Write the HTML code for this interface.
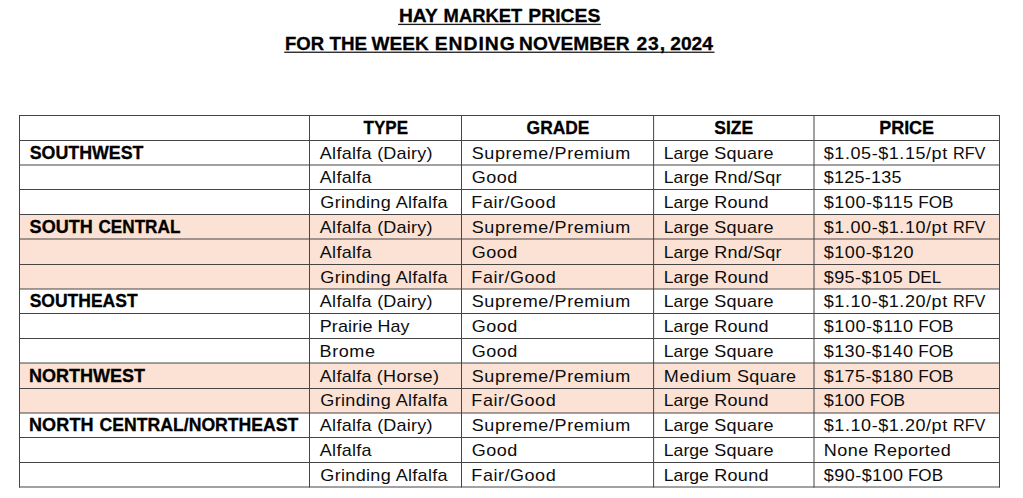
<!DOCTYPE html>
<html><head><meta charset="utf-8"><title>Hay Market Prices</title>
<style>
html,body{margin:0;padding:0;background:#fff;}
body{width:1023px;height:498px;position:relative;overflow:hidden;font-family:"Liberation Sans",sans-serif;color:#000;}
svg{position:absolute;left:0;top:0;}
.x{position:absolute;left:0;white-space:nowrap;line-height:1;margin:0;}
.x span{position:absolute;left:0;top:0;transform-origin:0 0;}
.b{font-weight:bold;font-size:17.5px;line-height:18px;-webkit-text-stroke:0.3px #000;}
.t{font-weight:bold;font-size:18.8px;-webkit-text-stroke:0.3px #000;}
.r{font-weight:normal;font-size:17.0px;line-height:17px;color:#0d0d0d;}
</style></head><body>

<svg width="1023" height="498" viewBox="0 0 1023 498">
<rect x="19.5" y="214.50" width="980.00" height="24.50" fill="#FBE2D5"/>
<rect x="19.5" y="239.00" width="980.00" height="25.50" fill="#FBE2D5"/>
<rect x="19.5" y="264.50" width="980.00" height="24.50" fill="#FBE2D5"/>
<rect x="19.5" y="363.00" width="980.00" height="25.50" fill="#FBE2D5"/>
<rect x="19.5" y="388.50" width="980.00" height="24.50" fill="#FBE2D5"/>
<line x1="19.0" x2="1000.0" y1="115.50" y2="115.50" stroke="#454545" stroke-width="1"/>
<line x1="19.0" x2="1000.0" y1="140.50" y2="140.50" stroke="#454545" stroke-width="1"/>
<line x1="19.0" x2="1000.0" y1="165.00" y2="165.00" stroke="#454545" stroke-width="1"/>
<line x1="19.0" x2="1000.0" y1="189.50" y2="189.50" stroke="#454545" stroke-width="1"/>
<line x1="19.0" x2="1000.0" y1="214.50" y2="214.50" stroke="#454545" stroke-width="1"/>
<line x1="19.0" x2="1000.0" y1="239.00" y2="239.00" stroke="#454545" stroke-width="1"/>
<line x1="19.0" x2="1000.0" y1="264.50" y2="264.50" stroke="#454545" stroke-width="1"/>
<line x1="19.0" x2="1000.0" y1="289.00" y2="289.00" stroke="#454545" stroke-width="1"/>
<line x1="19.0" x2="1000.0" y1="313.50" y2="313.50" stroke="#454545" stroke-width="1"/>
<line x1="19.0" x2="1000.0" y1="338.50" y2="338.50" stroke="#454545" stroke-width="1"/>
<line x1="19.0" x2="1000.0" y1="363.00" y2="363.00" stroke="#454545" stroke-width="1"/>
<line x1="19.0" x2="1000.0" y1="388.50" y2="388.50" stroke="#454545" stroke-width="1"/>
<line x1="19.0" x2="1000.0" y1="413.00" y2="413.00" stroke="#454545" stroke-width="1"/>
<line x1="19.0" x2="1000.0" y1="437.50" y2="437.50" stroke="#454545" stroke-width="1"/>
<line x1="19.0" x2="1000.0" y1="462.50" y2="462.50" stroke="#454545" stroke-width="1"/>
<line x1="19.0" x2="1000.0" y1="487.00" y2="487.00" stroke="#454545" stroke-width="1"/>
<line x1="19.5" x2="19.5" y1="115.00" y2="487.50" stroke="#454545" stroke-width="1"/>
<line x1="309.5" x2="309.5" y1="115.00" y2="487.50" stroke="#454545" stroke-width="1"/>
<line x1="461.5" x2="461.5" y1="115.00" y2="487.50" stroke="#454545" stroke-width="1"/>
<line x1="653.6" x2="653.6" y1="115.00" y2="487.50" stroke="#454545" stroke-width="1"/>
<line x1="814.0" x2="814.0" y1="115.00" y2="487.50" stroke="#454545" stroke-width="1"/>
<line x1="999.5" x2="999.5" y1="115.00" y2="487.50" stroke="#454545" stroke-width="1"/>
<rect x="398.1" y="23.75" width="202.8" height="1.3" fill="#1c1c1c"/>
<rect x="284.2" y="51.6" width="430.3" height="1.3" fill="#1c1c1c"/>
</svg>
<div class="x t" style="top:7.49px"><span style="transform:translateX(398.98px) scaleX(1.0240)">HAY</span> <span style="transform:translateX(443.62px) scaleX(0.9767)">MARKET</span> <span style="transform:translateX(528.37px) scaleX(1.0293)">PRICES</span></div>
<div class="x t" style="top:35.29px"><span style="transform:translateX(285.01px) scaleX(0.9851)">FOR</span> <span style="transform:translateX(329.50px) scaleX(1.0017)">THE</span> <span style="transform:translateX(371.60px) scaleX(1.0127)">WEEK</span> <span style="transform:translateX(434.67px) scaleX(1.0300);letter-spacing:0.956px">ENDING</span> <span style="transform:translateX(519.08px) scaleX(1.0189)">NOVEMBER</span> <span style="transform:translateX(636.40px) scaleX(1.0300);letter-spacing:0.904px">23,</span> <span style="transform:translateX(670.20px) scaleX(1.0228)">2024</span></div>
<div class="x b" style="top:119.00px"><span style="transform:translateX(363.60px) scaleX(0.9704)">TYPE</span></div>
<div class="x b" style="top:119.00px"><span style="transform:translateX(526.60px) scaleX(0.9948)">GRADE</span></div>
<div class="x b" style="top:119.00px"><span style="transform:translateX(714.30px)">SIZE</span></div>
<div class="x b" style="top:119.00px"><span style="transform:translateX(879.17px) scaleX(1.0268)">PRICE</span></div>
<div class="x b" style="top:144.00px"><span style="transform:translateX(29.70px) scaleX(1.0177)">SOUTHWEST</span></div>
<div class="x b" style="top:218.00px"><span style="transform:translateX(29.60px) scaleX(1.0300);letter-spacing:0.017px">SOUTH</span> <span style="transform:translateX(98.40px) scaleX(0.9808)">CENTRAL</span></div>
<div class="x b" style="top:292.00px"><span style="transform:translateX(29.70px)">SOUTHEAST</span></div>
<div class="x b" style="top:367.00px"><span style="transform:translateX(28.97px) scaleX(1.0296)">NORTHWEST</span></div>
<div class="x b" style="top:416.00px"><span style="transform:translateX(28.97px) scaleX(1.0300);letter-spacing:0.123px">NORTH</span> <span style="transform:translateX(99.50px) scaleX(1.0078)">CENTRAL/NORTHEAST</span></div>
<div class="x r" style="top:145.00px"><span style="transform:translateX(319.80px) scaleX(1.0600);letter-spacing:0.273px">Alfalfa</span> <span style="transform:translateX(377.14px) scaleX(1.0600);letter-spacing:0.190px">(Dairy)</span></div>
<div class="x r" style="top:145.00px"><span style="transform:translateX(471.70px) scaleX(1.0600);letter-spacing:0.556px">Supreme/Premium</span></div>
<div class="x r" style="top:145.00px"><span style="transform:translateX(663.76px) scaleX(1.0375)">Large</span> <span style="transform:translateX(714.30px) scaleX(1.0600);letter-spacing:0.203px">Square</span></div>
<div class="x r" style="top:145.00px"><span style="transform:translateX(823.80px) scaleX(1.0600);letter-spacing:0.521px">$1.05-$1.15/pt</span> <span style="transform:translateX(952.94px) scaleX(0.9566)">RFV</span></div>
<div class="x r" style="top:169.00px"><span style="transform:translateX(319.80px) scaleX(1.0600);letter-spacing:0.273px">Alfalfa</span></div>
<div class="x r" style="top:169.00px"><span style="transform:translateX(471.70px) scaleX(1.0600);letter-spacing:0.503px">Good</span></div>
<div class="x r" style="top:169.00px"><span style="transform:translateX(663.76px) scaleX(1.0375)">Large</span> <span style="transform:translateX(714.24px) scaleX(1.0600);letter-spacing:0.172px">Rnd/Sqr</span></div>
<div class="x r" style="top:169.00px"><span style="transform:translateX(823.80px) scaleX(1.0600);letter-spacing:0.219px">$125-135</span></div>
<div class="x r" style="top:194.00px"><span style="transform:translateX(320.30px) scaleX(1.0600);letter-spacing:0.306px">Grinding</span> <span style="transform:translateX(395.80px) scaleX(1.0600);letter-spacing:0.242px">Alfalfa</span></div>
<div class="x r" style="top:194.00px"><span style="transform:translateX(471.34px) scaleX(1.0600);letter-spacing:0.498px">Fair/Good</span></div>
<div class="x r" style="top:194.00px"><span style="transform:translateX(663.76px) scaleX(1.0375)">Large</span> <span style="transform:translateX(714.24px) scaleX(1.0600);letter-spacing:0.269px">Round</span></div>
<div class="x r" style="top:194.00px"><span style="transform:translateX(823.80px) scaleX(1.0600);letter-spacing:0.512px">$100-$115</span> <span style="transform:translateX(918.19px) scaleX(1.0117)">FOB</span></div>
<div class="x r" style="top:219.00px"><span style="transform:translateX(319.80px) scaleX(1.0600);letter-spacing:0.273px">Alfalfa</span> <span style="transform:translateX(377.14px) scaleX(1.0600);letter-spacing:0.190px">(Dairy)</span></div>
<div class="x r" style="top:219.00px"><span style="transform:translateX(471.70px) scaleX(1.0600);letter-spacing:0.556px">Supreme/Premium</span></div>
<div class="x r" style="top:219.00px"><span style="transform:translateX(663.76px) scaleX(1.0375)">Large</span> <span style="transform:translateX(714.30px) scaleX(1.0600);letter-spacing:0.203px">Square</span></div>
<div class="x r" style="top:219.00px"><span style="transform:translateX(823.80px) scaleX(1.0600);letter-spacing:0.521px">$1.00-$1.10/pt</span> <span style="transform:translateX(952.94px) scaleX(0.9566)">RFV</span></div>
<div class="x r" style="top:244.00px"><span style="transform:translateX(319.80px) scaleX(1.0600);letter-spacing:0.273px">Alfalfa</span></div>
<div class="x r" style="top:244.00px"><span style="transform:translateX(471.70px) scaleX(1.0600);letter-spacing:0.503px">Good</span></div>
<div class="x r" style="top:244.00px"><span style="transform:translateX(663.76px) scaleX(1.0375)">Large</span> <span style="transform:translateX(714.24px) scaleX(1.0600);letter-spacing:0.172px">Rnd/Sqr</span></div>
<div class="x r" style="top:244.00px"><span style="transform:translateX(823.80px) scaleX(1.0600);letter-spacing:0.413px">$100-$120</span></div>
<div class="x r" style="top:269.00px"><span style="transform:translateX(320.30px) scaleX(1.0600);letter-spacing:0.306px">Grinding</span> <span style="transform:translateX(395.80px) scaleX(1.0600);letter-spacing:0.242px">Alfalfa</span></div>
<div class="x r" style="top:269.00px"><span style="transform:translateX(471.34px) scaleX(1.0600);letter-spacing:0.498px">Fair/Good</span></div>
<div class="x r" style="top:269.00px"><span style="transform:translateX(663.76px) scaleX(1.0375)">Large</span> <span style="transform:translateX(714.24px) scaleX(1.0600);letter-spacing:0.269px">Round</span></div>
<div class="x r" style="top:269.00px"><span style="transform:translateX(823.80px) scaleX(1.0600);letter-spacing:0.368px">$95-$105</span> <span style="transform:translateX(907.89px) scaleX(1.0122)">DEL</span></div>
<div class="x r" style="top:293.00px"><span style="transform:translateX(319.80px) scaleX(1.0600);letter-spacing:0.273px">Alfalfa</span> <span style="transform:translateX(377.14px) scaleX(1.0600);letter-spacing:0.190px">(Dairy)</span></div>
<div class="x r" style="top:293.00px"><span style="transform:translateX(471.70px) scaleX(1.0600);letter-spacing:0.556px">Supreme/Premium</span></div>
<div class="x r" style="top:293.00px"><span style="transform:translateX(663.76px) scaleX(1.0375)">Large</span> <span style="transform:translateX(714.30px) scaleX(1.0600);letter-spacing:0.203px">Square</span></div>
<div class="x r" style="top:293.00px"><span style="transform:translateX(823.80px) scaleX(1.0600);letter-spacing:0.521px">$1.10-$1.20/pt</span> <span style="transform:translateX(952.94px) scaleX(0.9566)">RFV</span></div>
<div class="x r" style="top:318.00px"><span style="transform:translateX(319.74px) scaleX(1.0600);letter-spacing:0.105px">Prairie</span> <span style="transform:translateX(377.55px) scaleX(1.0528)">Hay</span></div>
<div class="x r" style="top:318.00px"><span style="transform:translateX(471.70px) scaleX(1.0600);letter-spacing:0.503px">Good</span></div>
<div class="x r" style="top:318.00px"><span style="transform:translateX(663.76px) scaleX(1.0375)">Large</span> <span style="transform:translateX(714.24px) scaleX(1.0600);letter-spacing:0.269px">Round</span></div>
<div class="x r" style="top:318.00px"><span style="transform:translateX(823.80px) scaleX(1.0600);letter-spacing:0.512px">$100-$110</span> <span style="transform:translateX(918.19px) scaleX(1.0117)">FOB</span></div>
<div class="x r" style="top:343.00px"><span style="transform:translateX(319.54px) scaleX(1.0600);letter-spacing:0.558px">Brome</span></div>
<div class="x r" style="top:343.00px"><span style="transform:translateX(471.70px) scaleX(1.0600);letter-spacing:0.503px">Good</span></div>
<div class="x r" style="top:343.00px"><span style="transform:translateX(663.76px) scaleX(1.0375)">Large</span> <span style="transform:translateX(714.30px) scaleX(1.0600);letter-spacing:0.203px">Square</span></div>
<div class="x r" style="top:343.00px"><span style="transform:translateX(823.80px) scaleX(1.0600);letter-spacing:0.354px">$130-$140</span> <span style="transform:translateX(918.19px) scaleX(1.0117)">FOB</span></div>
<div class="x r" style="top:368.00px"><span style="transform:translateX(319.80px) scaleX(1.0600);letter-spacing:0.273px">Alfalfa</span> <span style="transform:translateX(376.74px) scaleX(1.0600);letter-spacing:0.345px">(Horse)</span></div>
<div class="x r" style="top:368.00px"><span style="transform:translateX(471.70px) scaleX(1.0600);letter-spacing:0.556px">Supreme/Premium</span></div>
<div class="x r" style="top:368.00px"><span style="transform:translateX(663.74px) scaleX(1.0600);letter-spacing:0.611px">Medium</span> <span style="transform:translateX(737.10px) scaleX(1.0600);letter-spacing:0.165px">Square</span></div>
<div class="x r" style="top:368.00px"><span style="transform:translateX(823.80px) scaleX(1.0600);letter-spacing:0.354px">$175-$180</span> <span style="transform:translateX(918.19px) scaleX(1.0117)">FOB</span></div>
<div class="x r" style="top:392.00px"><span style="transform:translateX(320.30px) scaleX(1.0600);letter-spacing:0.306px">Grinding</span> <span style="transform:translateX(395.80px) scaleX(1.0600);letter-spacing:0.242px">Alfalfa</span></div>
<div class="x r" style="top:392.00px"><span style="transform:translateX(471.34px) scaleX(1.0600);letter-spacing:0.498px">Fair/Good</span></div>
<div class="x r" style="top:392.00px"><span style="transform:translateX(663.76px) scaleX(1.0375)">Large</span> <span style="transform:translateX(714.24px) scaleX(1.0600);letter-spacing:0.269px">Round</span></div>
<div class="x r" style="top:392.00px"><span style="transform:translateX(823.80px) scaleX(1.0600);letter-spacing:0.187px">$100</span> <span style="transform:translateX(869.69px) scaleX(1.0117)">FOB</span></div>
<div class="x r" style="top:417.00px"><span style="transform:translateX(319.80px) scaleX(1.0600);letter-spacing:0.273px">Alfalfa</span> <span style="transform:translateX(377.14px) scaleX(1.0600);letter-spacing:0.190px">(Dairy)</span></div>
<div class="x r" style="top:417.00px"><span style="transform:translateX(471.70px) scaleX(1.0600);letter-spacing:0.556px">Supreme/Premium</span></div>
<div class="x r" style="top:417.00px"><span style="transform:translateX(663.76px) scaleX(1.0375)">Large</span> <span style="transform:translateX(714.30px) scaleX(1.0600);letter-spacing:0.203px">Square</span></div>
<div class="x r" style="top:417.00px"><span style="transform:translateX(823.80px) scaleX(1.0600);letter-spacing:0.521px">$1.10-$1.20/pt</span> <span style="transform:translateX(952.94px) scaleX(0.9566)">RFV</span></div>
<div class="x r" style="top:442.00px"><span style="transform:translateX(319.80px) scaleX(1.0600);letter-spacing:0.273px">Alfalfa</span></div>
<div class="x r" style="top:442.00px"><span style="transform:translateX(471.70px) scaleX(1.0600);letter-spacing:0.503px">Good</span></div>
<div class="x r" style="top:442.00px"><span style="transform:translateX(663.76px) scaleX(1.0375)">Large</span> <span style="transform:translateX(714.30px) scaleX(1.0600);letter-spacing:0.203px">Square</span></div>
<div class="x r" style="top:442.00px"><span style="transform:translateX(823.64px) scaleX(1.0600);letter-spacing:0.460px">None</span> <span style="transform:translateX(873.54px) scaleX(1.0600);letter-spacing:0.419px">Reported</span></div>
<div class="x r" style="top:467.00px"><span style="transform:translateX(320.30px) scaleX(1.0600);letter-spacing:0.306px">Grinding</span> <span style="transform:translateX(395.80px) scaleX(1.0600);letter-spacing:0.242px">Alfalfa</span></div>
<div class="x r" style="top:467.00px"><span style="transform:translateX(471.34px) scaleX(1.0600);letter-spacing:0.498px">Fair/Good</span></div>
<div class="x r" style="top:467.00px"><span style="transform:translateX(663.76px) scaleX(1.0375)">Large</span> <span style="transform:translateX(714.24px) scaleX(1.0600);letter-spacing:0.269px">Round</span></div>
<div class="x r" style="top:467.00px"><span style="transform:translateX(823.80px) scaleX(1.0600);letter-spacing:0.422px">$90-$100</span> <span style="transform:translateX(907.89px) scaleX(1.0057)">FOB</span></div>
</body></html>
